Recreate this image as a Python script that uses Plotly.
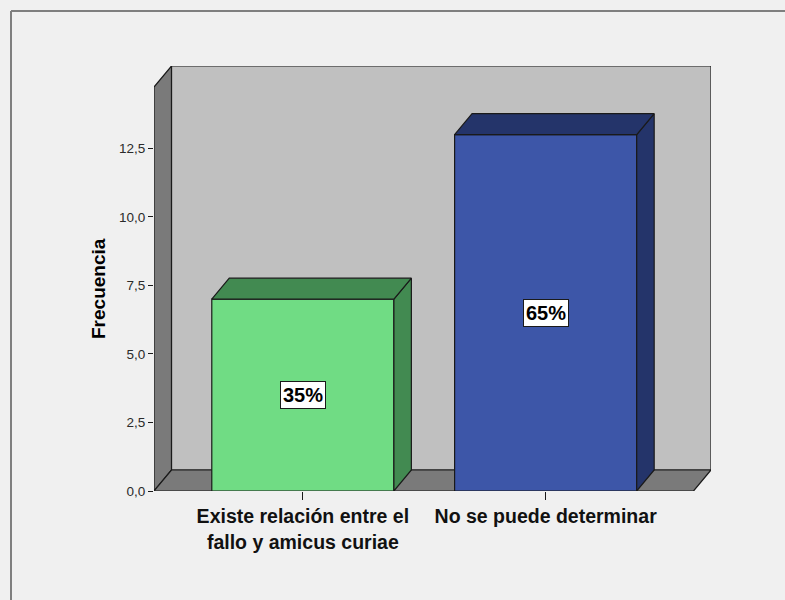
import plotly.graph_objects as go

# ---- data ----
categories = ["Existe relación entre el<br>fallo y amicus curiae", "No se puede determinar"]
frequencies = [7, 13]
front_colors = ["#70dc84", "#3d56a8"]
dark_colors = ["#428a51", "#24346a"]
y_tick_vals = [0, 2.5, 5, 7.5, 10, 12.5]
y_title = "Frecuencia"

total = sum(frequencies)
pct_labels = [f"{round(100 * v / total)}%" for v in frequencies]

# ---- 3D geometry (data units) ----
BAR_W = 0.75
DX = 0.072      # depth offset along x (category units)
DY = 0.766      # depth offset along y (value units)
X0, X1 = -0.613, 1.609   # front floor extent
YTOP = 14.74             # front top of the wall
WALL_BACK = "#c0c0c0"
WALL_SIDE = "#7a7a7a"
EDGE = "#1a1a1a"
FONT = "Liberation Sans, Arial, sans-serif"

fig = go.Figure()

# bar front faces
xs = list(range(len(categories)))
fig.add_trace(go.Bar(
    x=xs, y=frequencies, width=BAR_W,
    marker=dict(color=front_colors, line=dict(color=EDGE, width=1.2)),
    hoverinfo="skip", showlegend=False,
))

# side and top faces of each bar
for i, v in enumerate(frequencies):
    xl, xr = i - BAR_W / 2, i + BAR_W / 2
    side_x = [xr, xr + DX, xr + DX, xr, xr]
    side_y = [0, DY, v + DY, v, 0]
    top_x = [xl, xr, xr + DX, xl + DX, xl]
    top_y = [v, v, v + DY, v + DY, v]
    for px, py in ((side_x, side_y), (top_x, top_y)):
        fig.add_trace(go.Scatter(
            x=px, y=py, mode="lines", fill="toself",
            fillcolor=dark_colors[i], line=dict(color=EDGE, width=1.2),
            hoverinfo="skip", showlegend=False,
        ))

# percent labels
for i, v in enumerate(frequencies):
    fig.add_annotation(
        x=i, y=v / 2, text=f"<b>{pct_labels[i]}</b>", showarrow=False,
        font=dict(family=FONT, size=20, color="black"),
        bgcolor="white", bordercolor=EDGE, borderwidth=1, borderpad=2,
    )

L, R, T, B = 154, 74, 66, 109
W, H = 785, 600
pw, ph = W - L - R, H - T - B

# y axis title, centred on the front wall
fig.add_annotation(
    xref="paper", yref="y", x=(98 - L) / pw, y=YTOP / 2,
    xanchor="center", yanchor="middle",
    text=f"<b>{y_title}</b>", textangle=-90, showarrow=False,
    font=dict(family=FONT, size=19, color="black"),
)

def path(pts):
    return "M " + " L ".join(f"{x},{y}" for x, y in pts) + " Z"

shapes = [
    # back wall
    dict(type="path", xref="x", yref="y", layer="below",
         path=path([(X0 + DX, DY), (X1 + DX, DY), (X1 + DX, YTOP + DY), (X0 + DX, YTOP + DY)]),
         fillcolor=WALL_BACK, line=dict(color=EDGE, width=1.2)),
    # left wall
    dict(type="path", xref="x", yref="y", layer="below",
         path=path([(X0, 0), (X0 + DX, DY), (X0 + DX, YTOP + DY), (X0, YTOP)]),
         fillcolor=WALL_SIDE, line=dict(color=EDGE, width=1.2)),
    # floor
    dict(type="path", xref="x", yref="y", layer="below",
         path=path([(X0, 0), (X1, 0), (X1 + DX, DY), (X0 + DX, DY)]),
         fillcolor=WALL_SIDE, line=dict(color=EDGE, width=1.2)),
]

# outer frame (left and top borders)
fx = (11 - L) / pw
fy = (H - B - 11) / ph
shapes.append(dict(type="line", xref="paper", yref="paper", x0=fx, x1=fx, y0=fy, y1=(H - B - 600) / ph,
                   line=dict(color="#7f7f7f", width=2), layer="below"))
shapes.append(dict(type="line", xref="paper", yref="paper", x0=fx, x1=(W - L) / pw, y0=fy, y1=fy,
                   line=dict(color="#7f7f7f", width=2), layer="below"))

fig.update_layout(
    width=W, height=H,
    margin=dict(l=L, r=R, t=T, b=B),
    paper_bgcolor="#f0f0f0", plot_bgcolor="rgba(0,0,0,0)",
    separators=",.",
    shapes=shapes,
    font=dict(family=FONT, color="black"),
    xaxis=dict(
        range=[X0, X1 + DX], tickvals=xs, ticktext=[f"<b>{c}</b>" for c in categories],
        ticks="outside", ticklen=8, tickcolor=EDGE, tickwidth=1,
        tickfont=dict(size=19.5, color="#111111"),
        showgrid=False, zeroline=False, showline=False, fixedrange=True,
    ),
    yaxis=dict(
        range=[0, YTOP + DY], tickvals=y_tick_vals, tickformat=".1f",
        ticks="outside", ticklen=5, tickcolor=EDGE, tickwidth=1,
        tickfont=dict(size=13.5, color="#2a2a2a"),
        showgrid=False, zeroline=False, showline=False, fixedrange=True,
    ),
)

fig.write_html(
    "out.html",
    config={"displayModeBar": False, "staticPlot": True},
    post_script="document.body.style.margin='0';document.body.style.background='#f4f4f4';",
)
